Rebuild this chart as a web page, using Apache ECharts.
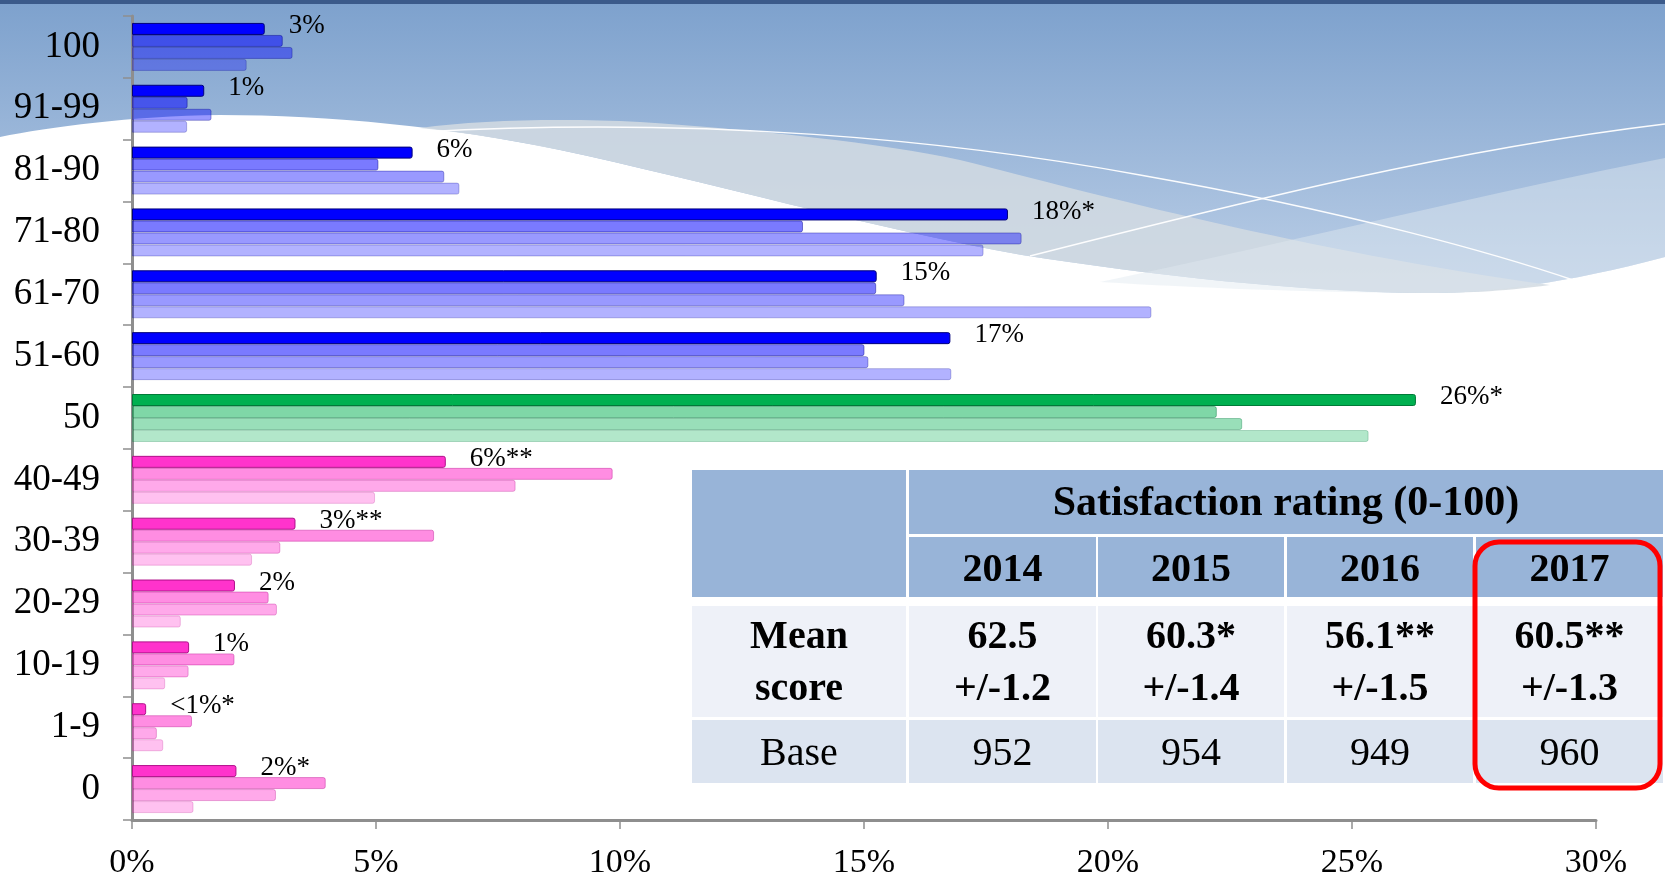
<!DOCTYPE html>
<html>
<head>
<meta charset="utf-8">
<script src="https://cdn.jsdelivr.net/npm/echarts@6/dist/echarts.min.js"></script>
<style>
html,body{margin:0;padding:0;background:#fff;}
#chart{width:1665px;height:880px;}
</style>
</head>
<body>
<div id="chart"></div>
<script>
// ---- data ----
const categories = ['100','91-99','81-90','71-80','61-70','51-60','50','40-49','30-39','20-29','10-19','1-9','0'];
const years = ['2017','2016','2015','2014'];
const v2017 = [2.72,1.48,5.75,17.95,15.26,16.77,26.31,6.43,3.35,2.11,1.17,0.29,2.14];
const v2016 = [3.09,1.14,5.05,13.75,15.25,15.01,22.23,9.85,6.19,2.80,2.10,1.23,3.97];
const v2015 = [3.29,1.63,6.40,18.23,15.83,15.09,22.75,7.86,3.04,2.97,1.16,0.51,2.95];
const v2014 = [2.35,1.13,6.71,17.45,20.89,16.79,25.34,4.98,2.46,1.00,0.68,0.64,1.26];
const labels2017 = ['3%','1%','6%','18%*','15%','17%','26%*','6%**','3%**','2%','1%','<1%*','2%*'];
const xTicks = [0,5,10,15,20,25,30];

const tableTitle = 'Satisfaction rating (0-100)';
const tableYears = ['2014','2015','2016','2017'];
const tableMeans = ['62.5','60.3*','56.1**','60.5**'];
const tableMeanCI = ['+/-1.2','+/-1.4','+/-1.5','+/-1.3'];
const tableBases = ['952','954','949','960'];
const rowLabelsMean = ['Mean','score'];
const rowLabelBase = 'Base';

// ---- styles ----
const SERIF = '"Liberation Serif","Times New Roman",serif';
const palette = {
  blue:  ['#0000FF','rgba(0,0,255,0.52)','rgba(0,0,255,0.40)','rgba(0,0,255,0.30)'],
  green: ['#00B050','rgba(0,176,80,0.50)','rgba(0,176,80,0.40)','rgba(0,176,80,0.30)'],
  pink:  ['#FF33CC','rgba(255,51,204,0.56)','rgba(255,51,204,0.42)','rgba(255,51,204,0.30)']
};
const borders = {
  blue:  ['#00007A','rgba(0,0,140,0.45)','rgba(0,0,140,0.35)','rgba(0,0,140,0.25)'],
  green: ['#007A38','rgba(0,120,60,0.45)','rgba(0,120,60,0.35)','rgba(0,120,60,0.25)'],
  pink:  ['#B0108A','rgba(190,30,150,0.45)','rgba(190,30,150,0.35)','rgba(190,30,150,0.25)']
};
const midIdx = categories.indexOf('50');
function family(i){ return i < midIdx ? 'blue' : (i === midIdx ? 'green' : 'pink'); }

const seriesValues = [v2017, v2016, v2015, v2014];

const series = seriesValues.map((vals, s) => ({
  name: years[s],
  type: 'bar',
  data: vals.map((v, i) => ({
    value: v,
    itemStyle: { color: palette[family(i)][s], borderColor: borders[family(i)][s] }
  })),
  barWidth: 12,
  barGap: '0%',
  itemStyle: { borderWidth: 1, borderRadius: [0,2,2,0] },
  label: s === 0 ? {
    show: true,
    position: 'right',
    distance: 24,
    offset: [0,-3],
    formatter: p => labels2017[p.dataIndex],
    fontFamily: SERIF,
    fontSize: 27,
    color: '#000'
  } : {show:false},
  silent: true,
  animation: false
}));

// ---- background decoration ----
const G = echarts.graphic;
G.registerShape('bgBlue', G.extendPath(
  'M0,0 H1665 V257 C1560,285 1480,294 1424,293 C1300,292 1150,275 1022,255 C880,230 700,180 560,150 C450,127 330,115 220,115 C130,116 50,127 0,137 Z'));
G.registerShape('bgGray', G.extendPath(
  'M420,128 C480,120 560,118 640,122 C760,130 880,143 960,160 C1100,195 1300,250 1550,285 C1500,292 1460,293 1424,293 C1300,292 1150,275 1022,255 C880,230 700,180 560,150 C510,140 470,133 420,128 Z'));
G.registerShape('bgLight', G.extendPath(
  'M1100,282 C1300,240 1500,190 1665,158 V257 C1560,285 1480,294 1424,293 C1300,292 1200,288 1100,282 Z'));
G.registerShape('bgLine1', G.extendPath('M420,132 C700,116 950,140 1140,175 C1350,212 1500,255 1576,281'));
G.registerShape('bgLine2', G.extendPath('M1030,256 C1250,200 1450,150 1665,124'));

const bg = [
  { type:'bgBlue', z:-20, silent:true,
    style:{ fill:new G.LinearGradient(0,0,0,1,[{offset:0, color:'#7DA1CD'},{offset:1, color:'#BCCFE7'}]) } },
  { type:'bgGray', z:-19, silent:true, style:{ fill:'rgba(210,218,226,0.85)' } },
  { type:'bgLight', z:-18, silent:true, style:{ fill:'rgba(225,232,240,0.45)' } },
  { type:'bgLine1', z:-17, silent:true, style:{ fill:'none', stroke:'rgba(255,255,255,0.95)', lineWidth:1.5 } },
  { type:'bgLine2', z:-17, silent:true, style:{ fill:'none', stroke:'rgba(255,255,255,0.95)', lineWidth:1.5 } },
  { type:'rect', z:-16, silent:true, shape:{x:0,y:0,width:1665,height:4}, style:{ fill:'#3B5A8A' } }
];

// ---- table ----
const colX = [692, 909, 1098, 1287, 1476];
const colW = [214, 187, 186, 186, 187];
const rowY = [470, 537, 606, 720];
const rowH = [64, 60, 111, 63];
const hdrColor = '#98B4D8', meanColor = '#EEF1F8', baseColor = '#DCE4F0';
const table = [];
function rect(x,y,w,h,fill){ table.push({type:'rect', z:100, silent:true, shape:{x,y,width:w,height:h}, style:{fill}}); }
function txt(t,x,y,bold,size){ table.push({type:'text', z:101, silent:true, style:{
  text:t, x, y, align:'center', verticalAlign:'middle', textAlign:'center', textVerticalAlign:'middle',
  font:(bold?'bold ':'')+(size||40)+'px '+SERIF, fill:'#000' }}); }
rect(colX[0], rowY[0], colW[0], rowY[1]+rowH[1]-rowY[0], hdrColor);
rect(colX[1], rowY[0], colX[4]+colW[4]-colX[1], rowH[0], hdrColor);
for (let c=1;c<5;c++){
  rect(colX[c], rowY[1], colW[c], rowH[1], hdrColor);
}
for (let c=0;c<5;c++){
  rect(colX[c], rowY[2], colW[c], rowH[2], meanColor);
  rect(colX[c], rowY[3], colW[c], rowH[3], baseColor);
}
txt(tableTitle, (colX[1]+colX[4]+colW[4])/2, rowY[0]+rowH[0]/2+2, true, 42);
txt(rowLabelsMean[0], colX[0]+colW[0]/2, 638, true);
txt(rowLabelsMean[1], colX[0]+colW[0]/2, 690, true);
txt(rowLabelBase, colX[0]+colW[0]/2, 754, false);
for (let i=0;i<4;i++){
  const cx = colX[i+1]+colW[i+1]/2;
  txt(tableYears[i], cx, 571, true);
  txt(tableMeans[i], cx, 638, true);
  txt(tableMeanCI[i], cx, 690, true);
  txt(tableBases[i], cx, 754, false);
}
table.push({type:'rect', z:102, silent:true, shape:{x:1475,y:542,width:185,height:246,r:24},
  style:{fill:'none', stroke:'#FF0000', lineWidth:5}});

const chart = echarts.init(document.getElementById('chart'), null, {renderer:'canvas'});
chart.setOption({
  animation:false,
  backgroundColor:'#ffffff',
  grid:{ left:132, right:69, top:16, bottom:59, containLabel:false },
  xAxis:{
    type:'value', min:xTicks[0], max:xTicks[xTicks.length-1], interval:xTicks[1]-xTicks[0],
    axisLine:{ show:true, lineStyle:{ color:'#8E8E8E', width:3 } },
    axisTick:{ show:true, length:9, lineStyle:{ color:'#8E8E8E', width:1.5 } },
    splitLine:{ show:false },
    axisLabel:{ formatter:'{value}%', fontFamily:SERIF, fontSize:34, color:'#000', margin:26 }
  },
  yAxis:{
    type:'category', data:categories, inverse:true,
    axisLine:{ show:true, lineStyle:{ color:'#8E8E8E', width:3 } },
    axisTick:{ show:true, length:9, lineStyle:{ color:'#8E8E8E', width:1.5 } },
    axisLabel:{ fontFamily:SERIF, fontSize:37, color:'#000', margin:32, padding:[6,0,0,0] }
  },
  series: series,
  graphic: bg.concat(table)
});
</script>
</body>
</html>
